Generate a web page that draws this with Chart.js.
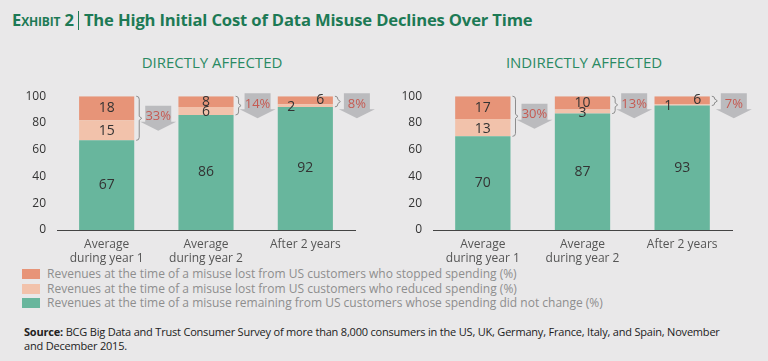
<!DOCTYPE html>
<html>
<head>
<meta charset="utf-8">
<script src="https://cdn.jsdelivr.net/npm/chart.js@4.4.0/dist/chart.umd.min.js"></script>
<style>
  body { margin: 0; background: #e9e8e9; font-family: "Open Sans", sans-serif; }
  #page { position: relative; width: 768px; height: 361px; overflow: hidden; background: #e9e8e9; }
  #title { position: absolute; left: 12px; top: 8px; font-weight: bold; font-size: 16.6px; color: #1d7a55; white-space: nowrap; letter-spacing: -0.15px; }
  #title .ex { font-variant: small-caps; }
  #title .bar { display: inline-block; width: 1px; height: 19px; background: #1d7a55; vertical-align: -4px; margin: 0 5px 0 4px; }
  .sub { position: absolute; width: 220px; text-align: center; top: 52px; font-size: 15px; color: #2a8a63; white-space: nowrap; }
  .cv { position: absolute; top: 86px; width: 384px; height: 179px; }
  #legend { position: absolute; left: 22px; top: 267px; font-size: 12px; color: #8e8e8e; }
  #legend div { height: 14.5px; line-height: 14.5px; white-space: nowrap; }
  #legend span { display: inline-block; width: 18px; height: 10px; margin-right: 7px; vertical-align: -1px; }
  #source { position: absolute; left: 24px; top: 325px; width: 712px; font-size: 11px; line-height: 13.5px; color: #222; letter-spacing: -0.2px; }
</style>
</head>
<body>
<div id="page">
  <div id="title"><span class="ex">Exhibit 2</span><span class="bar"></span>The High Initial Cost of Data Misuse Declines Over Time</div>
  <div class="sub" style="left:102px">DIRECTLY AFFECTED</div>
  <div class="sub" style="left:474px">INDIRECTLY AFFECTED</div>
  <div class="cv" style="left:0"><canvas id="directChart"></canvas></div>
  <div class="cv" style="left:384px"><canvas id="indirectChart"></canvas></div>
  <div id="legend"></div>
  <div id="source"><b>Source:</b> BCG Big Data and Trust Consumer Survey of more than 8,000 consumers in the US, UK, Germany, France, Italy, and Spain, November and December 2015.</div>
</div>
<script>
'use strict';

var categories = [['Average', 'during year 1'], ['Average', 'during year 2'], 'After 2 years'];
var yTicks = [0, 20, 40, 60, 80, 100];

var seriesNames = [
  'Revenues at the time of a misuse remaining from US customers whose spending did not change (%)',
  'Revenues at the time of a misuse lost from US customers who reduced spending (%)',
  'Revenues at the time of a misuse lost from US customers who stopped spending (%)'
];
var seriesColors = ['#68b69d', '#f2c2ab', '#e79478'];

var directRemaining = [67, 86, 92];
var directReduced = [15, 6, 2];
var directStopped = [18, 8, 6];
var directLost = [33, 14, 8];

var indirectRemaining = [70, 87, 93];
var indirectReduced = [13, 3, 1];
var indirectStopped = [17, 10, 6];
var indirectLost = [30, 13, 7];

// legend (stopped on top, remaining last)
var legendEl = document.getElementById('legend');
[2, 1, 0].forEach(function(i) {
  var row = document.createElement('div');
  row.innerHTML = '<span style="background:' + seriesColors[i] + '"></span>' + seriesNames[i];
  legendEl.appendChild(row);
});

Chart.defaults.font.family = '"Open Sans", sans-serif';
Chart.defaults.color = '#333';

// value labels, brackets and grey arrows with the total loss
var annotPlugin = {
  id: 'annot',
  afterDatasetsDraw: function(chart, args, opts) {
    var ctx = chart.ctx;
    var top = chart.scales.y.top;
    var mG = chart.getDatasetMeta(0), mR = chart.getDatasetMeta(1), mS = chart.getDatasetMeta(2);
    ctx.save();
    chart.data.labels.forEach(function(lab, i) {
      var g = mG.data[i], r = mR.data[i], s = mS.data[i];
      var ds = chart.data.datasets;
      var thin = (r.base - r.y) < 3.5;
      ctx.font = '14px "Open Sans"';
      ctx.fillStyle = '#333';
      ctx.textAlign = 'center';
      ctx.textBaseline = 'middle';
      ctx.fillText(ds[0].data[i], g.x, (g.y + g.base) / 2);
      ctx.fillText(ds[1].data[i], r.x + (thin ? -14 : 0), (r.y + r.base) / 2 + 1);
      ctx.fillText(ds[2].data[i], s.x + (thin ? 15 : 0), (s.y + s.base) / 2);

      // bracket
      var right = g.x + g.width / 2;
      var bx = right + 2, bTop = s.y, bBot = r.base, mid = (bTop + bBot) / 2;
      ctx.strokeStyle = '#8c8c8c';
      ctx.lineWidth = 1;
      ctx.beginPath();
      ctx.moveTo(bx, bTop);
      ctx.quadraticCurveTo(bx + 3, bTop, bx + 3, bTop + 3);
      ctx.lineTo(bx + 3, mid - 2);
      ctx.lineTo(bx + 5.5, mid);
      ctx.lineTo(bx + 3, mid + 2);
      ctx.lineTo(bx + 3, bBot - 3);
      ctx.quadraticCurveTo(bx + 3, bBot, bx, bBot);
      ctx.stroke();

      // arrow
      var ax = right + 24;
      var ay = Math.max(mid, top + 9.5) - 12.5;
      ctx.fillStyle = '#bbbbbe';
      ctx.beginPath();
      ctx.moveTo(ax - 13, ay);
      ctx.lineTo(ax + 13, ay);
      ctx.lineTo(ax + 13, ay + 16);
      ctx.lineTo(ax + 18, ay + 16);
      ctx.lineTo(ax, ay + 25);
      ctx.lineTo(ax - 18, ay + 16);
      ctx.lineTo(ax - 13, ay + 16);
      ctx.closePath();
      ctx.fill();

      ctx.font = '13px "Open Sans"';
      ctx.fillStyle = '#c65a52';
      ctx.fillText(opts.lost[i] + '%', ax, ay + 11);
    });
    ctx.restore();
  }
};

function makeChart(id, remaining, reduced, stopped, lost, yWidth, padRight) {
  var canvas = document.getElementById(id);
  return new Chart(canvas.getContext('2d'), {
    type: 'bar',
    data: {
      labels: categories,
      datasets: [
        { label: seriesNames[0], data: remaining, backgroundColor: seriesColors[0] },
        { label: seriesNames[1], data: reduced, backgroundColor: seriesColors[1] },
        { label: seriesNames[2], data: stopped, backgroundColor: seriesColors[2] }
      ]
    },
    options: {
      responsive: true,
      maintainAspectRatio: false,
      animation: false,
      layout: { padding: { top: 10, left: 0, right: padRight, bottom: 0 } },
      datasets: { bar: { categoryPercentage: 1, barPercentage: 0.555 } },
      plugins: {
        legend: { display: false },
        tooltip: { enabled: false },
        annot: { lost: lost }
      },
      scales: {
        x: {
          stacked: true,
          grid: { display: false },
          border: { display: true, color: '#444', width: 1 },
          ticks: { color: '#555', font: { size: 12, lineHeight: 1.15 }, padding: 0, maxRotation: 0 },
          afterFit: function(scale) { scale.height = 35; }
        },
        y: {
          stacked: true,
          min: 0,
          max: 100,
          grid: { display: false },
          border: { display: false },
          afterBuildTicks: function(scale) {
            scale.ticks = yTicks.map(function(v) { return { value: v }; });
          },
          ticks: { color: '#333', font: { size: 12 }, padding: 3 },
          afterFit: function(scale) { scale.width = yWidth; }
        }
      }
    },
    plugins: [annotPlugin]
  });
}

makeChart('directChart', directRemaining, directReduced, directStopped, directLost, 57, 29);
makeChart('indirectChart', indirectRemaining, indirectReduced, indirectStopped, indirectLost, 49, 36);
</script>
</body>
</html>
